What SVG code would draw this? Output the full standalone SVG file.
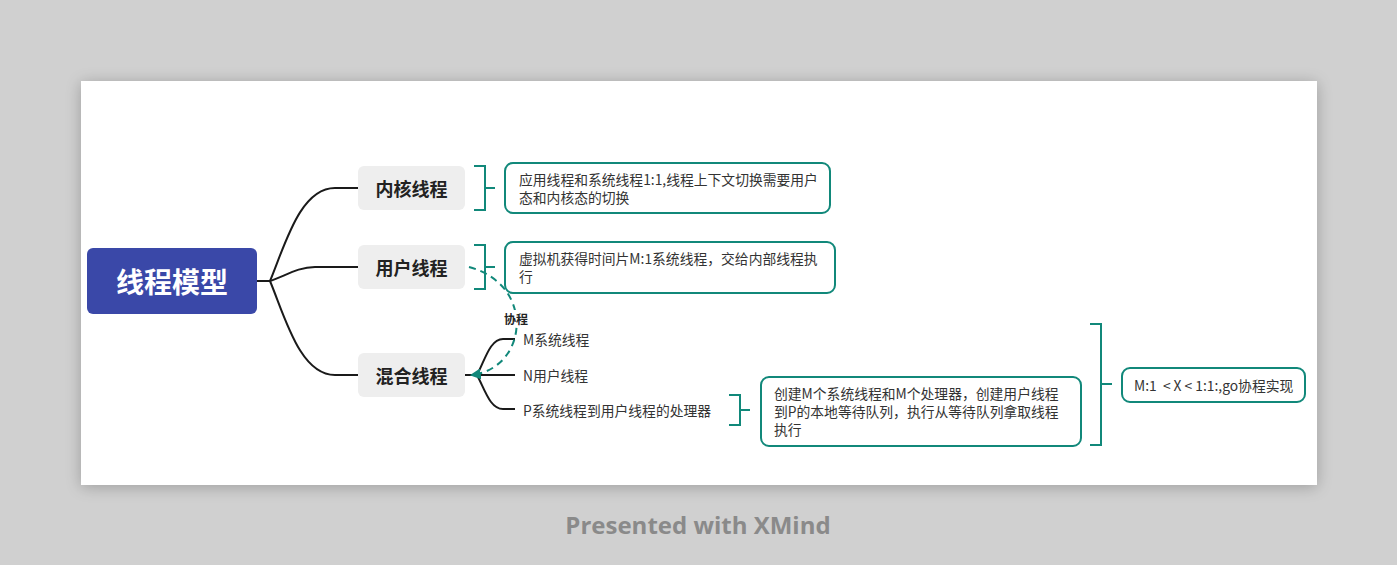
<svg xmlns="http://www.w3.org/2000/svg" width="1397" height="565" viewBox="0 0 1397 565">
<defs>
<filter id="sh" x="-10%" y="-20%" width="120%" height="140%">
<feGaussianBlur in="SourceAlpha" stdDeviation="8"/>
<feOffset dx="0" dy="2"/>
<feComponentTransfer><feFuncA type="linear" slope="0.25"/></feComponentTransfer>
<feMerge><feMergeNode/><feMergeNode in="SourceGraphic"/></feMerge>
</filter>
<marker id="arr" viewBox="0 0 10 10" refX="8" refY="5" markerWidth="11" markerHeight="11" orient="auto" markerUnits="userSpaceOnUse">
<path d="M0,0 L10,5 L0,10 z" fill="#11887a"/>
</marker>
<style>
.br{fill:none;stroke:#1a1a1a;stroke-width:2}
.bk{fill:none;stroke:#11887a;stroke-width:2}
.sum{fill:#fff;stroke:#11887a;stroke-width:2}
.main{fill:#eeeeee}
.mt{font-family:"Noto Sans CJK SC","Noto Sans",sans-serif;font-size:18px;font-weight:bold;fill:#222;text-anchor:middle;dominant-baseline:central}
.st{font-family:"Noto Sans CJK SC","Noto Sans",sans-serif;font-size:13.8px;fill:#333;dominant-baseline:central}
</style>
</defs>
<rect x="0" y="0" width="1397" height="565" fill="#d0d0d0"/>
<rect x="81" y="81" width="1236" height="404" fill="#fff" filter="url(#sh)"/>

<g id="connectors">
<path class="br" d="M257,281 H270 C285,245 300,188 335,188 H358"/>
<path class="br" d="M270,281 C285,276 298,267 315,267 H358"/>
<path class="br" d="M270,281 C285,317 300,375 335,375 H358"/>
<path class="br" d="M465,375 H477 C485,360 490,339 503,339 H515"/>
<path class="br" d="M477,375 H515"/>
<path class="br" d="M477,375 C485,390 490,409 503,409 H515"/>
<path class="bk" d="M474,166 H485 V210 H474 M485,188 H495"/>
<path class="bk" d="M474,245 H485 V289 H474 M485,267 H495"/>
<path class="bk" d="M729,395 H740 V425 H729 M740,410 H750"/>
<path class="bk" d="M1090,324 H1101 V445 H1090 M1101,384 H1112"/>
<path fill="none" stroke="#11887a" stroke-width="2" stroke-dasharray="7,5" d="M469,267 C536,285 528,368 472,375" marker-end="url(#arr)"/>
<rect x="502" y="310" width="28" height="16" fill="#fff"/>
<text x="516" y="318" style="font-family:'Noto Sans CJK SC','Noto Sans',sans-serif;font-size:12px;font-weight:bold;fill:#222;text-anchor:middle;dominant-baseline:central">协程</text>
</g>

<g id="root">
<rect x="87" y="248" width="170" height="66" rx="6" fill="#3a48a8"/>
<text x="172" y="281" style="font-family:'Noto Sans CJK SC','Noto Sans',sans-serif;font-size:28px;font-weight:bold;fill:#fff;text-anchor:middle;dominant-baseline:central">线程模型</text>
</g>

<g id="kernel">
<rect class="main" x="358" y="166" width="107" height="44" rx="6"/>
<text class="mt" x="411.5" y="188">内核线程</text>
</g>
<g id="user">
<rect class="main" x="358" y="245" width="107" height="44" rx="6"/>
<text class="mt" x="411.5" y="267">用户线程</text>
</g>
<g id="hybrid">
<rect class="main" x="358" y="353" width="107" height="44" rx="6"/>
<text class="mt" x="411.5" y="375">混合线程</text>
</g>

<g id="sum-kernel">
<rect class="sum" x="505" y="163" width="325" height="50" rx="8"/>
<text class="st" x="519" y="179">应用线程和系统线程1:1,线程上下文切换需要用户</text>
<text class="st" x="519" y="197">态和内核态的切换</text>
</g>
<g id="sum-user">
<rect class="sum" x="505" y="242" width="330" height="51" rx="8"/>
<text class="st" x="519" y="258">虚拟机获得时间片M:1系统线程，交给内部线程执</text>
<text class="st" x="519" y="276">行</text>
</g>

<g id="m-sys">
<text class="st" x="523" y="339">M系统线程</text>
</g>
<g id="n-user">
<text class="st" x="523" y="375">N用户线程</text>
</g>
<g id="p-proc">
<text class="st" x="523" y="410">P系统线程到用户线程的处理器</text>
</g>

<g id="sum-p">
<rect class="sum" x="761" y="377" width="320" height="69" rx="8"/>
<text class="st" x="774" y="393">创建M个系统线程和M个处理器，创建用户线程</text>
<text class="st" x="774" y="411">到P的本地等待队列，执行从等待队列拿取线程</text>
<text class="st" x="774" y="429">执行</text>
</g>

<g id="sum-hybrid">
<rect class="sum" x="1122" y="368" width="183" height="34" rx="8"/>
<text class="st" x="1134" y="385" xml:space="preserve">M:1  &lt; X &lt; 1:1:,go协程实现</text>
</g>

<text x="698" y="524" style="font-family:'Open Sans','Noto Sans',sans-serif;font-size:24px;font-weight:bold;fill:#8a8a8a;text-anchor:middle;dominant-baseline:central">Presented with XMind</text>
</svg>
